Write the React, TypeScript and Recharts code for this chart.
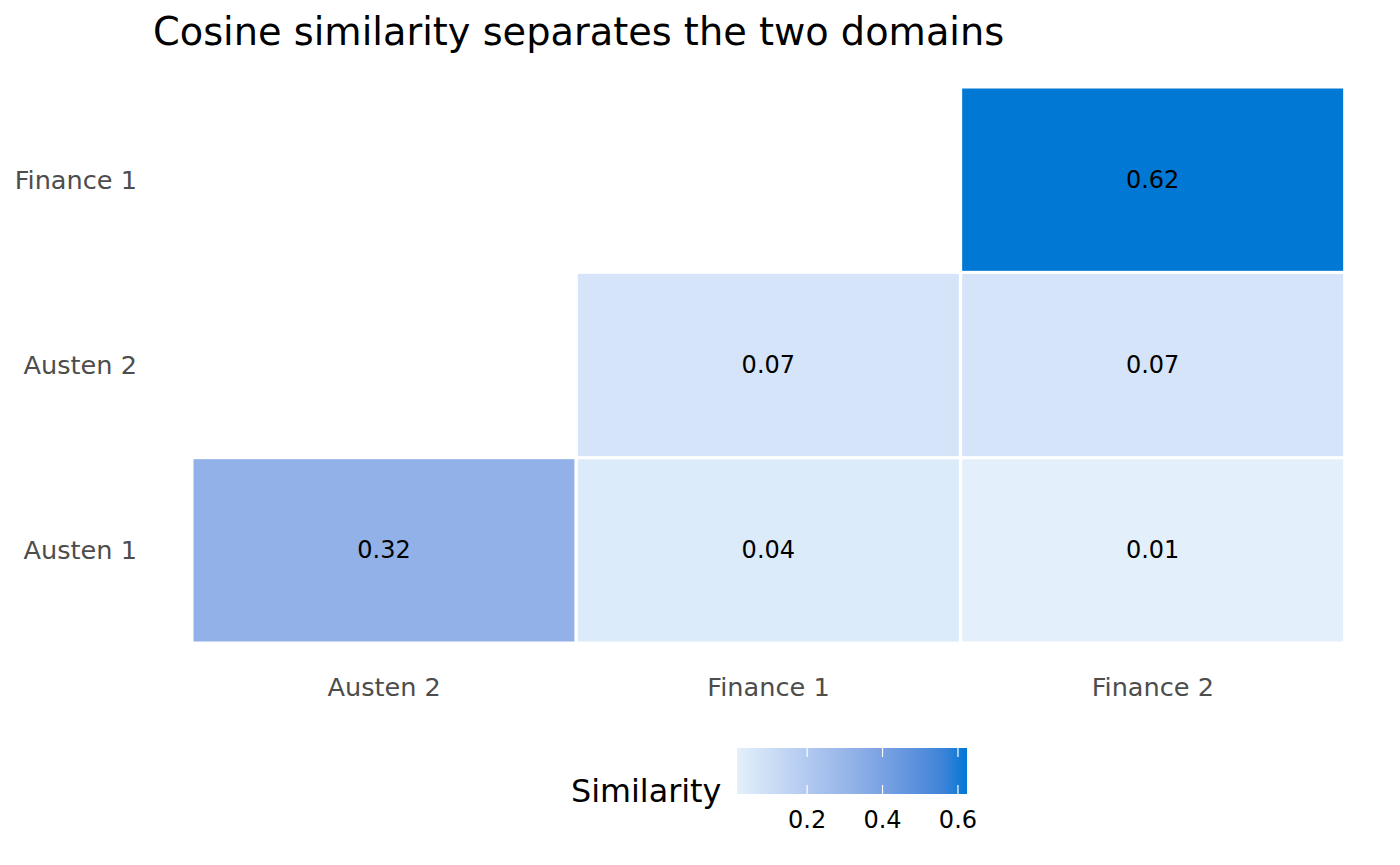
import { BarChart, Bar, XAxis, YAxis } from "recharts";

const FONT = "DejaVu Sans";

const columns = ["Austen 2", "Finance 1", "Finance 2"];
const rows = ["Austen 1", "Austen 2", "Finance 1"];

// similarity per row, one value per column (null = not shown)
const austen1 = [0.32, 0.04, 0.014];
const austen2 = [null, 0.07, 0.07];
const finance1 = [null, null, 0.624];

const legendTicks = [0.2, 0.4, 0.6];

const LOW = "#E3F0FB";
const HIGH = "#0078D4";

const rowValues = [austen1, austen2, finance1];
const allValues = rowValues.flat().filter((v): v is number => v != null);
const vMin = Math.min(...allValues);
const vMax = Math.max(...allValues);

const data = columns.map((col, i) => {
  const d: Record<string, any> = { col };
  rowValues.forEach((r, j) => {
    d[`r${j}`] = r[i] != null ? 1 : null;
    d[`v${j}`] = r[i];
  });
  return d;
});

// --- Lab colour interpolation (like ggplot's gradient) ---
function hexToRgb(h: string) {
  const n = parseInt(h.slice(1), 16);
  return [(n >> 16) & 255, (n >> 8) & 255, n & 255];
}
function toLin(c: number) {
  c /= 255;
  return c <= 0.04045 ? c / 12.92 : Math.pow((c + 0.055) / 1.055, 2.4);
}
function fromLin(c: number) {
  const v = c <= 0.0031308 ? 12.92 * c : 1.055 * Math.pow(c, 1 / 2.4) - 0.055;
  return Math.max(0, Math.min(255, Math.round(v * 255)));
}
const WX = 0.95047, WY = 1, WZ = 1.08883;
function f(t: number) {
  return t > 0.008856 ? Math.cbrt(t) : 7.787 * t + 16 / 116;
}
function fi(t: number) {
  return t * t * t > 0.008856 ? t * t * t : (t - 16 / 116) / 7.787;
}
function hexToLab(h: string) {
  const [r, g, b] = hexToRgb(h).map(toLin);
  const x = (r * 0.4124 + g * 0.3576 + b * 0.1805) / WX;
  const y = (r * 0.2126 + g * 0.7152 + b * 0.0722) / WY;
  const z = (r * 0.0193 + g * 0.1192 + b * 0.9505) / WZ;
  return [116 * f(y) - 16, 500 * (f(x) - f(y)), 200 * (f(y) - f(z))];
}
function labToHex([L, a, bb]: number[]) {
  const fy = (L + 16) / 116;
  const x = fi(fy + a / 500) * WX;
  const y = fi(fy) * WY;
  const z = fi(fy - bb / 200) * WZ;
  const r = x * 3.2406 + y * -1.5372 + z * -0.4986;
  const g = x * -0.9689 + y * 1.8758 + z * 0.0415;
  const b = x * 0.0557 + y * -0.204 + z * 1.057;
  return "#" + [r, g, b].map(fromLin).map((v) => v.toString(16).padStart(2, "0")).join("");
}
const labLow = hexToLab(LOW);
const labHigh = hexToLab(HIGH);
function colorFor(v: number) {
  const t = (v - vMin) / (vMax - vMin);
  return labToHex(labLow.map((c, i) => c + (labHigh[i] - c) * t));
}

function cellShape(row: number) {
  return (props: any) => {
    const { x, y, width, height, payload } = props;
    const v = payload[`v${row}`];
    if (v == null) return <g />;
    return (
      <g>
        <rect x={x} y={y} width={width} height={height} fill={colorFor(v)} stroke="#fff" strokeWidth={3} />
        <text
          x={x + width / 2}
          y={y + height / 2}
          textAnchor="middle"
          dominantBaseline="central"
          fontSize={24}
          fontFamily={FONT}
          fill="#000"
        >
          {v.toFixed(2)}
        </text>
      </g>
    );
  };
}

// legend geometry
const LG = { x: 737, y: 748, w: 230, h: 46 };
const legendX = (v: number) => LG.x + ((v - vMin) / (vMax - vMin)) * LG.w;
const gradStops = Array.from({ length: 11 }, (_, i) => i / 10);

export default function App() {
  return (
    <div style={{ position: "absolute", left: 0, top: 0, width: 1400, height: 865, background: "#fff", fontFamily: FONT }}>
      <BarChart
        width={1400}
        height={865}
        data={data}
        margin={{ top: 87, right: 55, bottom: 162, left: 0 }}
        barCategoryGap={0}
        barGap={0}
      >
        <XAxis
          dataKey="col"
          height={60}
          axisLine={false}
          tickLine={false}
          tickSize={0}
          tickMargin={35}
          tick={{ fontSize: 25.6, fill: "#4D4D4D", fontFamily: FONT }}
        />
        <YAxis
          type="number"
          domain={[0, 3]}
          ticks={[0.5, 1.5, 2.5]}
          width={192}
          axisLine={false}
          tickLine={false}
          tickSize={0}
          tickMargin={55}
          tickFormatter={(v: number) => rows[Math.floor(v)]}
          tick={{ fontSize: 25.6, fill: "#4D4D4D", fontFamily: FONT }}
        />
        {rows.map((r, j) => (
          <Bar key={r} dataKey={`r${j}`} stackId="a" isAnimationActive={false} shape={cellShape(j)} />
        ))}
      </BarChart>
      <svg width={1400} height={865} style={{ position: "absolute", left: 0, top: 0, pointerEvents: "none" }}>
        <defs>
          <linearGradient id="simGrad" x1="0" x2="1" y1="0" y2="0">
            {gradStops.map((s) => (
              <stop key={s} offset={s} stopColor={colorFor(vMin + s * (vMax - vMin))} />
            ))}
          </linearGradient>
        </defs>
        <text x={153} y={45} fontSize={38.3} fontFamily={FONT} fill="#000">
          Cosine similarity separates the two domains
        </text>
        <text x={571} y={802} fontSize={31.8} fontFamily={FONT} fill="#000">
          Similarity
        </text>
        <rect x={LG.x} y={LG.y} width={LG.w} height={LG.h} fill="url(#simGrad)" />
        {legendTicks.map((t) => (
          <g key={t}>
            <line x1={legendX(t)} x2={legendX(t)} y1={LG.y} y2={LG.y + 9} stroke="#fff" strokeWidth={1.2} />
            <line x1={legendX(t)} x2={legendX(t)} y1={LG.y + LG.h - 9} y2={LG.y + LG.h} stroke="#fff" strokeWidth={1.2} />
            <text x={legendX(t)} y={828} textAnchor="middle" fontSize={24} fontFamily={FONT} fill="#000">
              {t.toFixed(1)}
            </text>
          </g>
        ))}
      </svg>
    </div>
  );
}
